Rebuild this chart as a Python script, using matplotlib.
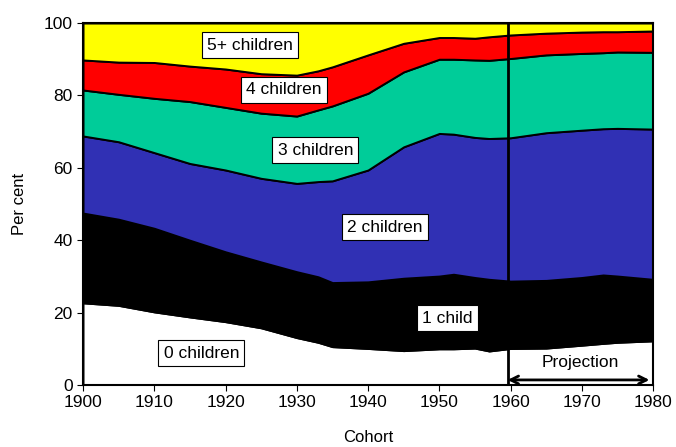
import matplotlib.pyplot as plt

plt.rcParams['font.family'] = ['Liberation Sans', 'DejaVu Sans']

years = [1900, 1905, 1910, 1915, 1920, 1925, 1930, 1933, 1935, 1940, 1945,
         1950, 1952, 1955, 1957, 1960, 1965, 1970, 1973, 1975, 1980]

# share of women (per cent) by number of children
zero = [22.7, 22.0, 20.2, 18.8, 17.5, 15.8, 13.1, 11.8, 10.6, 10.1, 9.5,
        10.0, 10.0, 10.2, 9.4, 10.1, 10.2, 11.0, 11.5, 11.8, 12.2]
one = [24.8, 23.8, 23.1, 21.2, 19.3, 18.2, 18.2, 18.1, 17.7, 18.4, 20.0,
       20.1, 20.6, 19.5, 19.8, 18.6, 18.7, 18.7, 18.9, 18.3, 17.0]
two = [21.3, 21.4, 20.9, 21.2, 22.6, 23.1, 24.4, 26.3, 28.1, 30.9, 36.3,
       39.4, 38.7, 38.7, 38.9, 39.6, 40.8, 40.7, 40.4, 40.8, 41.5]
three = [12.7, 13.1, 15.0, 17.1, 17.3, 18.0, 18.6, 19.8, 20.7, 21.2, 20.7,
         20.5, 20.7, 21.4, 21.6, 21.9, 21.5, 21.2, 21.0, 21.1, 21.2]
four = [8.3, 8.9, 9.9, 9.8, 10.6, 10.9, 11.3, 10.8, 10.8, 10.6, 7.9,
        6.0, 6.0, 6.0, 6.5, 6.5, 6.0, 5.9, 5.8, 5.6, 5.9]
five = [10.2, 10.8, 10.9, 11.9, 12.7, 14.0, 14.4, 13.2, 12.1, 8.8, 5.6,
        4.0, 4.0, 4.2, 3.8, 3.3, 2.8, 2.5, 2.4, 2.4, 2.2]

labels = ["0 children", "1 child", "2 children", "3 children", "4 children", "5+ children"]
colors = ["#FFFFFF", "#000000", "#3030B4", "#00CC99", "#FF0000", "#FFFF00"]
# label anchor positions (year, per cent)
label_pos = [(1916.6, 8.8), (1951.1, 18.5), (1942.4, 43.6),
             (1932.6, 64.9), (1928.2, 81.5), (1923.4, 93.9)]

projection_start = 1959.6

fig = plt.figure(figsize=(6.76, 4.47), dpi=100)
ax = fig.add_axes([0.1228, 0.1387, 0.8432, 0.8098])

ax.stackplot(years, zero, one, two, three, four, five, colors=colors,
             edgecolor="black", linewidth=1.4)

for text, (x, y) in zip(labels, label_pos):
    ax.text(x, y, text, ha="center", va="center", fontsize=12.5,
            bbox=dict(boxstyle="square,pad=0.3", facecolor="white",
                      edgecolor="black", linewidth=0.8))

ax.axvline(projection_start, color="black", linewidth=2)
ax.annotate("", xy=(1979.5, 1.4), xytext=(projection_start, 1.4),
            arrowprops=dict(arrowstyle="<->", color="black", lw=2,
                            mutation_scale=14, shrinkA=0, shrinkB=0))
ax.text(1969.8, 6.1, "Projection", ha="center", va="center", fontsize=12.5)

ax.set_xlim(1900, 1980)
ax.set_ylim(0, 100)
ax.set_xticks(range(1900, 1981, 10))
ax.set_yticks(range(0, 101, 20))
ax.tick_params(labelsize=12.5, length=4, direction="out")
for side in ["top", "right", "left", "bottom"]:
    ax.spines[side].set_linewidth(1.5)

ax.set_ylabel("Per cent", fontsize=12, labelpad=12)
ax.set_xlabel("Cohort", fontsize=12, labelpad=14)

fig.savefig("out.png", dpi=100)
